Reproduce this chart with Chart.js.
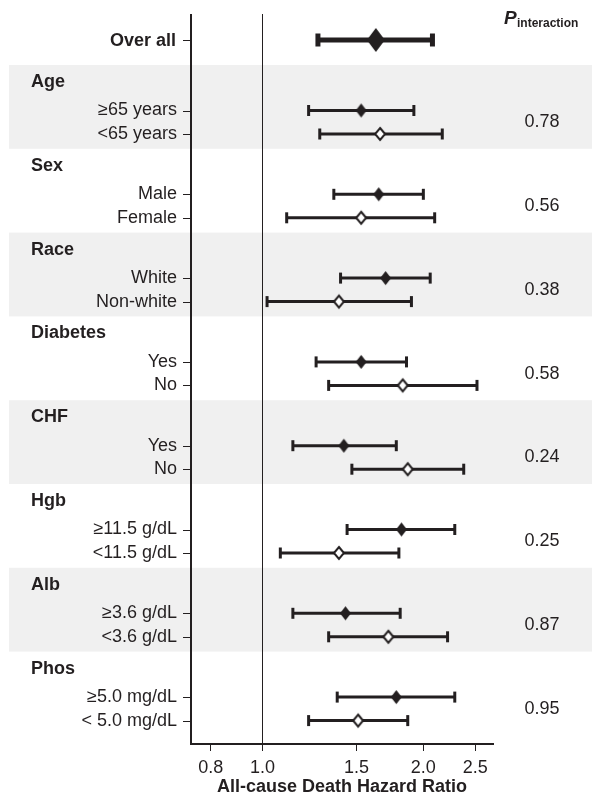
<!DOCTYPE html>
<html>
<head>
<meta charset="utf-8">
<script src="https://cdn.jsdelivr.net/npm/chart.js@4"></script>
<style>
  html, body { margin: 0; padding: 0; background: #fff; }
</style>
</head>
<body>
<canvas id="forestChart" width="592" height="804"></canvas>
<script>
// subgroups, top to bottom
const groupNames = ["Age", "Sex", "Race", "Diabetes", "CHF", "Hgb", "Alb", "Phos"];
const firstLabels = ["\u226565 years", "Male", "White", "Yes", "Yes", "\u226511.5 g/dL", "\u22653.6 g/dL", "\u22655.0 mg/dL"];
const secondLabels = ["<65 years", "Female", "Non-white", "No", "No", "<11.5 g/dL", "<3.6 g/dL", "< 5.0 mg/dL"];

// hazard ratios with 95% CI (filled = first row, open = second row)
const firstHR = [1.53, 1.65, 1.70, 1.53, 1.42, 1.82, 1.43, 1.78];
const firstLo = [1.22, 1.36, 1.40, 1.26, 1.14, 1.44, 1.14, 1.38];
const firstHi = [1.92, 2.00, 2.06, 1.86, 1.78, 2.29, 1.81, 2.29];
const secondHR = [1.66, 1.53, 1.39, 1.83, 1.87, 1.39, 1.72, 1.51];
const secondLo = [1.28, 1.11, 1.02, 1.33, 1.47, 1.08, 1.33, 1.22];
const secondHi = [2.17, 2.10, 1.90, 2.52, 2.38, 1.80, 2.22, 1.87];
const pInteraction = ["0.78", "0.56", "0.38", "0.58", "0.24", "0.25", "0.87", "0.95"];

const overallHR = 1.63;
const overallLo = 1.27;
const overallHi = 2.08;

const xTicks = [0.8, 1.0, 1.5, 2.0, 2.5];
const xMin = 0.735;
const xMax = 2.7;

const FONT = "'Liberation Sans', Arial, sans-serif";
const INK = "#231f20";
const BAND = "#f0f0f0";

// row layout, measured in pixels down from the top of the plot area
const overallRow = 26;
const groupStep = 83.8;
const groupTop = (g) => 51 + groupStep * g;
const headerRow = (g) => groupTop(g) + 17;
const firstRow = (g) => groupTop(g) + 45.5;
const secondRow = (g) => groupTop(g) + 69;

function diamond(w, h, fill, lineW) {
    const c = document.createElement("canvas");
    c.width = w + lineW * 2 + 2;
    c.height = h + lineW * 2 + 2;
    const g = c.getContext("2d");
    const cx = c.width / 2, cy = c.height / 2;
    g.beginPath();
    g.moveTo(cx, cy - h / 2);
    g.lineTo(cx + w / 2, cy);
    g.lineTo(cx, cy + h / 2);
    g.lineTo(cx - w / 2, cy);
    g.closePath();
    g.fillStyle = fill;
    g.fill();
    if (lineW) {
        g.lineWidth = lineW;
        g.strokeStyle = INK;
        g.stroke();
    }
    return c;
}

function line(ctx, x1, y1, x2, y2) {
    ctx.beginPath();
    ctx.moveTo(x1, y1);
    ctx.lineTo(x2, y2);
    ctx.stroke();
}

const bands = {
    id: "bands",
    beforeDraw(chart) {
        const { ctx, scales: { y } } = chart;
        ctx.save();
        ctx.fillStyle = "#fff";
        ctx.fillRect(0, 0, chart.width, chart.height);
        ctx.fillStyle = BAND;
        groupNames.forEach((name, g) => {
            if (g % 2) return;
            const top = y.getPixelForValue(groupTop(g));
            const bottom = y.getPixelForValue(groupTop(g + 1));
            ctx.fillRect(9, top, chart.width - 9, bottom - top);
        });
        ctx.restore();
    },
};

const errorBars = {
    id: "errorBars",
    beforeDatasetsDraw(chart) {
        const { ctx, chartArea, scales: { x, y } } = chart;
        ctx.save();
        ctx.strokeStyle = INK;

        // reference line at HR = 1
        ctx.lineWidth = 1;
        const ref = Math.round(x.getPixelForValue(1)) + 0.5;
        line(ctx, ref, chartArea.top, ref, chartArea.bottom);

        // left axis
        ctx.lineWidth = 2;
        line(ctx, chartArea.left, chartArea.top, chartArea.left, chartArea.bottom);

        const bar = (lo, hi, row, w, capW, capH) => {
            const py = y.getPixelForValue(row);
            const x1 = x.getPixelForValue(lo);
            const x2 = x.getPixelForValue(hi);
            ctx.lineWidth = w;
            ctx.lineCap = "butt";
            line(ctx, x1, py, x2, py);
            ctx.lineWidth = capW;
            line(ctx, x1, py - capH / 2, x1, py + capH / 2);
            line(ctx, x2, py - capH / 2, x2, py + capH / 2);
        };

        bar(overallLo, overallHi, overallRow, 5, 5, 13);
        groupNames.forEach((name, g) => {
            bar(firstLo[g], firstHi[g], firstRow(g), 3, 3, 11);
            bar(secondLo[g], secondHi[g], secondRow(g), 3, 3, 11);
        });
        ctx.restore();
    },
};

const labels = {
    id: "labels",
    afterDraw(chart) {
        const { ctx, chartArea, scales: { y } } = chart;
        const left = chartArea.left;
        ctx.save();
        ctx.fillStyle = INK;
        ctx.strokeStyle = INK;
        ctx.lineWidth = 1;
        ctx.textBaseline = "middle";

        const tick = (py) => line(ctx, left - 8, Math.round(py) + 0.5, left, Math.round(py) + 0.5);

        let py = y.getPixelForValue(overallRow);
        tick(py);
        ctx.font = "bold 18px " + FONT;
        ctx.textAlign = "right";
        ctx.fillText("Over all", left - 15, py + 1);

        groupNames.forEach((name, g) => {
            ctx.font = "bold 18px " + FONT;
            ctx.textAlign = "left";
            ctx.fillText(name, 31, y.getPixelForValue(headerRow(g)));

            ctx.font = "18px " + FONT;
            ctx.textAlign = "right";
            const p1 = y.getPixelForValue(firstRow(g));
            const p2 = y.getPixelForValue(secondRow(g));
            tick(p1);
            tick(p2);
            ctx.fillText(firstLabels[g], left - 14, p1);
            ctx.fillText(secondLabels[g], left - 14, p2);

            ctx.textAlign = "center";
            ctx.fillText(pInteraction[g], 542, (p1 + p2) / 2);
        });

        ctx.textBaseline = "alphabetic";
        ctx.textAlign = "left";
        ctx.font = "italic bold 19px " + FONT;
        ctx.fillText("P", 504, 24);
        ctx.font = "bold 12px " + FONT;
        ctx.fillText("interaction", 517, 27);
        ctx.restore();
    },
};

new Chart(document.getElementById("forestChart"), {
    type: "scatter",
    data: {
        datasets: [
            {
                label: "Over all",
                data: [{ x: overallHR, y: overallRow }],
                pointStyle: diamond(18, 24, INK, 0),
            },
            {
                label: "First subgroup",
                data: firstHR.map((v, g) => ({ x: v, y: firstRow(g) })),
                pointStyle: diamond(11, 14, INK, 0),
            },
            {
                label: "Second subgroup",
                data: secondHR.map((v, g) => ({ x: v, y: secondRow(g) })),
                pointStyle: diamond(10, 12, "#fff", 2),
            },
        ],
    },
    options: {
        responsive: false,
        animation: false,
        layout: { padding: { left: 191, right: 99, top: 14, bottom: 0 } },
        plugins: {
            legend: { display: false },
            tooltip: { enabled: false },
        },
        scales: {
            x: {
                type: "logarithmic",
                bounds: "data",
                min: xMin,
                max: xMax,
                afterBuildTicks: (scale) => {
                    scale.ticks = xTicks.map((v) => ({ value: v }));
                    scale.min = xMin;
                    scale.max = xMax;
                },
                afterFit: (scale) => {
                    scale.height = 60;
                },
                grid: {
                    drawOnChartArea: false,
                    drawTicks: true,
                    tickLength: 7,
                    color: INK,
                    lineWidth: 1,
                },
                border: { display: true, color: INK, width: 2 },
                ticks: {
                    autoSkip: false,
                    maxRotation: 0,
                    padding: 6,
                    color: INK,
                    font: { family: FONT, size: 18 },
                    callback: (v) => Number(v).toFixed(1),
                },
                title: {
                    display: true,
                    text: "All-cause Death Hazard Ratio",
                    color: INK,
                    font: { family: FONT, size: 18, weight: "bold" },
                    padding: { top: 0, bottom: 6 },
                },
            },
            y: {
                type: "linear",
                reverse: true,
                min: 0,
                max: 730,
                display: false,
            },
        },
    },
    plugins: [bands, errorBars, labels],
});
</script>
</body>
</html>
